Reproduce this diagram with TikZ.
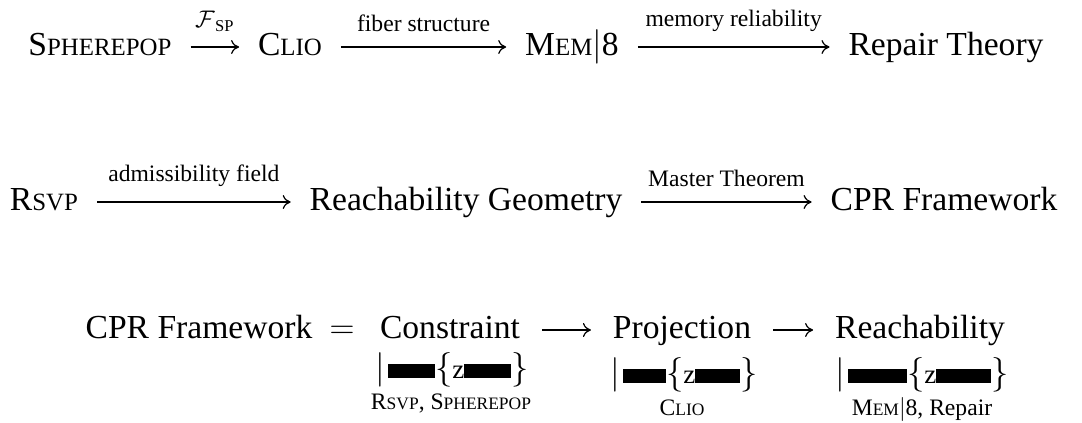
\documentclass[tikz,border=0pt]{standalone}
\usepackage{fontspec}
\setmainfont{Liberation Serif}
\usetikzlibrary{arrows.meta}

\makeatletter
% small capitals built from a full capital and reduced capitals
\newcommand{\smcp}[2]{#1{\fontsize{\fpeval{0.74*\f@size}}{0}\selectfont #2}}
\makeatother

% a broken underbrace: bar, bar-rule, left brace, z, bar-rule, right brace
\newcommand{\brokenbrace}[2]{$|$\kern1.5pt\rule{#1}{7pt}$\{${\fontsize{13.5}{14}\selectfont z}\rule{#2}{7pt}$\}$}

\begin{document}
\begin{tikzpicture}[x=0.5pt, y=-0.5pt,
  term/.style={font=\fontsize{16.8}{19}\selectfont, inner sep=0pt, outer sep=0pt,
    text height=8pt, text depth=0pt, anchor=base},
  arrowlabel/.style={font=\fontsize{11.8}{13}\selectfont, inner sep=0pt, above=7.5pt},
  bracerow/.style={font=\fontsize{16.2}{19}\selectfont, inner sep=0pt, anchor=base},
  source/.style={font=\fontsize{11.8}{13}\selectfont, inner sep=0pt, anchor=base},
  link/.style={-{To[length=4pt,width=7pt]}, line width=0.6pt,
    shorten <=9.5pt, shorten >=9.5pt},
  plainlink/.style={link, shorten <=11pt, shorten >=11pt},
]
\useasboundingbox (0,0) rectangle (1082,423);

% first chain
\node[term] (sp)   at (100,55)  {\smcp{S}{PHEREPOP}};
\node[term] (clio) at (290,55)  {\smcp{C}{LIO}};
\node[term] (mem)  at (572,55)  {\smcp{M}{EM}$|$8};
\node[term] (rep)  at (946,55)  {Repair Theory};
\draw[link] (sp)   -- node[arrowlabel] {$\mathcal{F}_{\,\mathrm{SP}}$} (clio);
\draw[link] (clio) -- node[arrowlabel] {fiber structure} (mem);
\draw[link] (mem)  -- node[arrowlabel] {memory reliability} (rep);

% second chain
\node[term] (rsvp)  at (44,210)  {\smcp{R}{SVP}};
\node[term] (reach) at (466,210) {Reachability Geometry};
\node[term] (cpr)   at (944,210) {CPR Framework};
\draw[link] (rsvp)  -- node[arrowlabel] {admissibility field} (reach);
\draw[link] (reach) -- node[arrowlabel] {Master Theorem} (cpr);

% decomposition
\node[term] (cprb) at (199,338) {CPR Framework};
\node[term] (eq)   at (342,338) {$=$};
\node[term] (con)  at (450,338) {Constraint};
\node[term] (proj) at (682,338) {Projection};
\node[term] (rch)  at (920,338) {Reachability};
\draw[plainlink] (con)  -- (proj);
\draw[plainlink] (proj) -- (rch);

\node[bracerow] (bcon)  at (452,378) {\brokenbrace{23.5pt}{23.5pt}};
\node[bracerow] (bproj) at (684,383) {\brokenbrace{21.5pt}{22.5pt}};
\node[bracerow] (brch)  at (922,383) {\brokenbrace{29.5pt}{27.5pt}};

\node[source] (scon)  at (451,409) {\smcp{R}{SVP}, \smcp{S}{PHEREPOP}};
\node[source] (sproj) at (682,415) {\smcp{C}{LIO}};
\node[source] (srch)  at (922,415) {\smcp{M}{EM}$|$8, Repair};
\end{tikzpicture}
\end{document}
